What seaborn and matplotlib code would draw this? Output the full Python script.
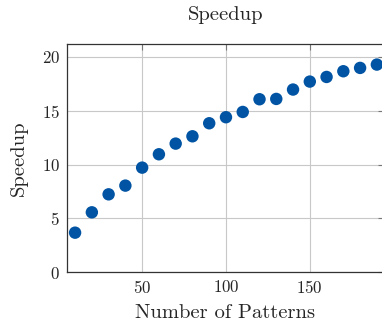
import matplotlib
matplotlib.use("Agg")
import matplotlib.pyplot as plt
import seaborn as sns
import pandas as pd

# Speedup per number of patterns
patterns = [10, 20, 30, 40, 50, 60, 70, 80, 90, 100,
            110, 120, 130, 140, 150, 160, 170, 180, 190]
speedup = [3.68, 5.57, 7.24, 8.05, 9.72, 10.96, 11.95, 12.63, 13.84, 14.40,
           14.89, 16.07, 16.10, 16.97, 17.71, 18.14, 18.67, 18.98, 19.29]
x_ticks = [50, 100, 150]
y_ticks = [0, 5, 10, 15, 20]

df = pd.DataFrame({"patterns": patterns, "speedup": speedup})

sns.set_style("white")
plt.rcParams["font.family"] = ["cmr10", "DejaVu Serif"]
plt.rcParams["mathtext.fontset"] = "cm"
plt.rcParams["axes.formatter.use_mathtext"] = True

fig = plt.figure(figsize=(3.82, 3.22), dpi=100)
ax = fig.add_axes([66.7 / 382, 1 - 272.3 / 322, 1.005 - 66.7 / 382, (272.3 - 44) / 322])

sns.scatterplot(data=df, x="patterns", y="speedup", ax=ax,
                color="#0054A3", s=80, edgecolor="none", zorder=3)

ax.set_xlim(5, 194.2)
ax.set_ylim(0, 21.2)
ax.set_xticks(x_ticks)
ax.set_yticks(y_ticks)
ax.grid(True, color="#c8c8c8", linewidth=0.8)
ax.tick_params(direction="in", length=4, width=0.8, color="#777777",
               labelsize=12.2, top=True, right=True, pad=5)
for name, sp in ax.spines.items():
    sp.set_color("#333333")
    sp.set_linewidth(0.9)
ax.spines["right"].set_visible(False)

ax.set_xlabel("Number of Patterns", fontsize=14.8, labelpad=6)
ax.set_ylabel("Speedup", fontsize=14.8, labelpad=10)
ax.set_title("Speedup", fontsize=14.8, pad=17)

fig.savefig("out.png", dpi=100)
